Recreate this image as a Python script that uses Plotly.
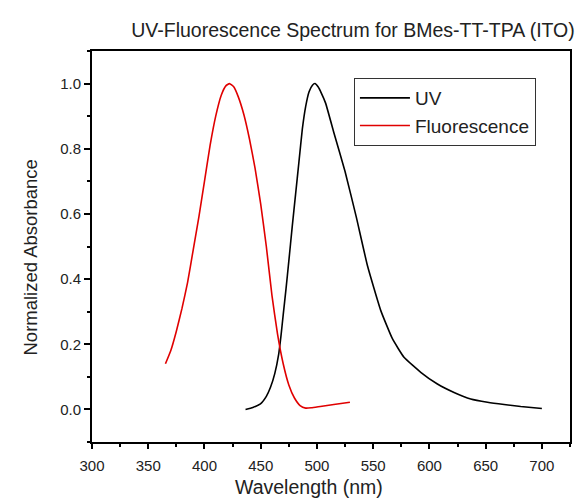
import plotly.graph_objects as go

uv_wl = [436.5, 443.0, 449.8, 455.0, 458.7, 462.5, 466.0, 468.0, 470.0, 472.5, 475.0, 478.0,
         481.0, 484.0, 487.0, 490.0, 493.0, 496.0, 498.2, 501.0, 504.0, 507.7, 515.0,
         525.0, 535.0, 545.0, 556.7, 567.1, 577.4, 592.3, 607.1, 621.9, 636.7, 651.6,
         666.4, 681.2, 700.0]
uv_val = [0.0, 0.006, 0.017, 0.04, 0.068, 0.11, 0.17, 0.225, 0.29, 0.37, 0.455, 0.56,
          0.66, 0.76, 0.86, 0.93, 0.975, 0.995, 1.0, 0.99, 0.97, 0.94, 0.85,
          0.73, 0.59, 0.44, 0.304, 0.217, 0.16, 0.114, 0.078, 0.052, 0.032, 0.022,
          0.015, 0.009, 0.003]

fl_wl = [365.3, 370.0, 375.0, 380.0, 385.0, 390.0, 395.0, 400.0, 405.0, 410.0, 415.0,
         419.0, 422.2, 426.0, 430.0, 435.0, 440.0, 445.0, 450.0, 455.0, 460.0, 465.0,
         470.0, 475.0, 480.0, 485.0, 490.0, 495.0, 503.0, 515.0, 529.3]
fl_val = [0.14, 0.18, 0.24, 0.31, 0.39, 0.49, 0.59, 0.70, 0.81, 0.90, 0.965,
          0.993, 1.0, 0.99, 0.96, 0.905, 0.83, 0.74, 0.63, 0.50, 0.35, 0.23,
          0.14, 0.075, 0.035, 0.012, 0.004, 0.005, 0.009, 0.015, 0.022]

x_ticks = [300, 350, 400, 450, 500, 550, 600, 650, 700]
y_ticks = [0.0, 0.2, 0.4, 0.6, 0.8, 1.0]
y_tick_labels = ["0.0", "0.2", "0.4", "0.6", "0.8", "1.0"]

W, H = 577, 491
L, R, T, B = 84, 15, 43, 57

fig = go.Figure()
fig.add_trace(go.Scatter(x=uv_wl, y=uv_val, mode="lines", name="UV",
                         line=dict(color="black", width=1.6, shape="spline", smoothing=0.4)))
fig.add_trace(go.Scatter(x=fl_wl, y=fl_val, mode="lines", name="Fluorescence",
                         line=dict(color="#e00000", width=1.6, shape="spline", smoothing=0.4)))

font = "Liberation Sans, Arial, sans-serif"
fig.update_layout(
    width=W, height=H,
    margin=dict(l=L, r=R, t=T, b=B),
    paper_bgcolor="white", plot_bgcolor="white",
    font=dict(family=font, color="#222"),
    title=dict(text="UV-Fluorescence Spectrum for BMes-TT-TPA (ITO)", x=345 / W, xanchor="center",
               y=1 - 22 / H, yanchor="middle", font=dict(size=19.5, color="#222", family=font)),
    showlegend=True,
    legend=dict(x=0.548, y=0.931, xanchor="left", yanchor="top",
                bordercolor="#333", borderwidth=1, bgcolor="white",
                font=dict(size=19, family=font, color="#222"),
                tracegroupgap=0, itemwidth=50),
    xaxis=dict(range=[300, 725], tickvals=x_ticks, ticks="outside", ticklen=5, tickwidth=1.5,
               tickcolor="black", showline=True, linecolor="black", linewidth=2, mirror=True,
               showgrid=False, zeroline=False, tickfont=dict(size=15, color="#222"),
               ticklabelstandoff=4,
               minor=dict(ticks="outside", ticklen=3, tickwidth=1.5, tickcolor="black", dtick=25, showgrid=False)),
    yaxis=dict(range=[-0.1, 1.1], tickvals=y_ticks, ticktext=y_tick_labels, ticks="outside",
               ticklen=6, tickwidth=1.5, tickcolor="black", showline=True, linecolor="black",
               linewidth=2, mirror=True, showgrid=False, zeroline=False,
               tickfont=dict(size=15, color="#222"),
               minor=dict(ticks="outside", ticklen=3, tickwidth=1.5, tickcolor="black", dtick=0.1, showgrid=False)),
    annotations=[
        dict(text="Wavelength (nm)", xref="paper", yref="paper",
             x=(301 - L) / (W - L - R), y=-(479 - (H - B)) / (H - T - B),
             xanchor="center", yanchor="middle", showarrow=False,
             font=dict(size=19.5, color="#222", family=font)),
        dict(text="Normalized Absorbance", xref="paper", yref="paper",
             x=-(L - 22) / (W - L - R), y=(H - B - 249.5) / (H - T - B),
             xanchor="center", yanchor="middle", showarrow=False, textangle=-90,
             font=dict(size=18.5, color="#222", family=font)),
    ],
)
fig.write_html("out.html")
